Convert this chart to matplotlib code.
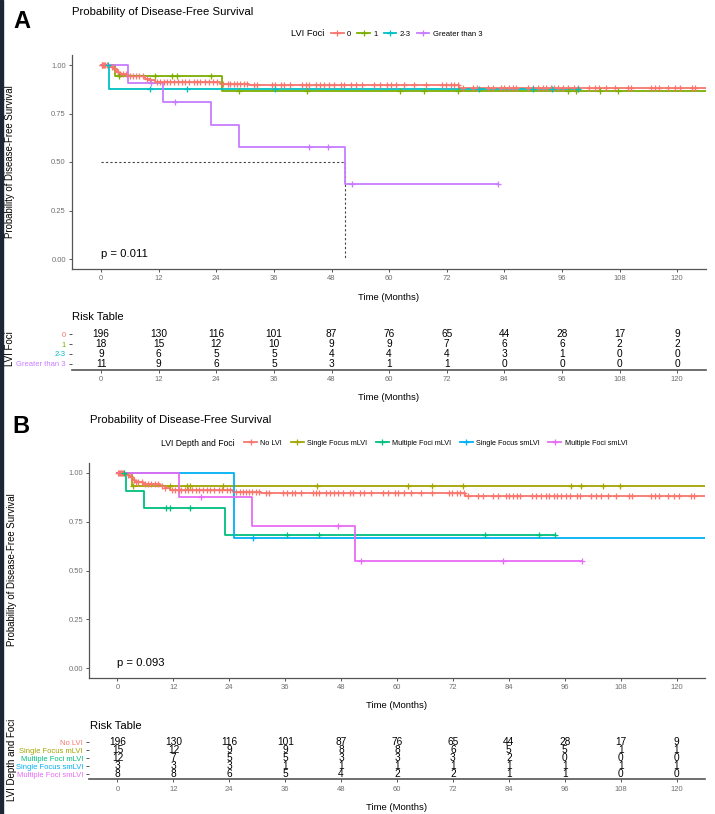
import numpy as np
import matplotlib
matplotlib.use("Agg")
import matplotlib.pyplot as plt
from matplotlib.lines import Line2D
from matplotlib.patches import Rectangle

plt.rcParams['font.family'] = ['Liberation Sans', 'DejaVu Sans']

W, H = 715, 814

# risk table time points
months = [0, 12, 24, 36, 48, 60, 72, 84, 96, 108, 120]

# ---- panel A data (LVI Foci) ----
a_groups = ["0", "1", "2-3", "Greater than 3"]
a_colors = ["#F8766D", "#7CAE00", "#00BFC4", "#C77CFF"]

# group "0" / "No LVI" (same patients in both panels)
red_evt_t = [1.8, 2.6, 3.3, 3.7, 5.4, 9.2, 10.2, 11.3, 24.8, 30.8, 74.6]
red_evt_s = [0.990, 0.980, 0.964, 0.952, 0.942, 0.930, 0.921, 0.913, 0.904, 0.896, 0.879]
red_cens = [0.1, 0.3, 0.5, 0.7, 0.9, 1.2, 2.2, 2.9, 3.5, 4.0, 4.5, 5.2, 6.0, 6.6, 7.3,
            8.0, 8.8, 9.5, 10.3, 11.6, 12.3, 13.2, 13.7, 14.4, 15.1, 16.1, 16.8, 17.5,
            18.4, 19.3, 19.9, 20.7, 21.7, 22.4, 23.4, 24.1, 25.5, 26.4, 26.9, 27.6, 28.3,
            28.9, 29.7, 30.4, 31.8, 32.5, 35.6, 36.3, 37.4, 38.1, 39.4, 41.9, 42.6, 43.3,
            44.7, 45.7, 46.4, 47.4, 48.5, 49.9, 50.6, 52.0, 53.0, 54.4, 56.9, 58.1, 59.6,
            60.3, 61.4, 63.0, 65.2, 67.6, 71.1, 71.8, 72.9, 73.5, 74.3, 75.3, 77.4, 78.4,
            80.5, 81.6, 83.3, 84.0, 85.0, 85.7, 86.4, 88.9, 89.9, 91.0, 92.0, 92.7, 93.7,
            94.4, 95.1, 96.2, 97.2, 98.6, 99.3, 101.7, 102.8, 103.8, 105.2, 107.0, 109.8,
            110.4, 114.6, 115.3, 116.3, 118.1, 119.5, 120.5, 123.0, 123.7]
red_end = 126

a1_evt_t = [2.9, 25.2]
a1_evt_s = [0.944, 0.866]
a1_cens = [3.7, 11.3, 14.8, 15.9, 22.8, 28.7, 42.8, 62.3, 67.3, 74.3, 97.2, 99.0, 104.0, 107.6]
a1_end = 126

a23_evt_t = [1.7]
a23_evt_s = [0.875]
a23_cens = [1.4, 10.2, 18.0, 36.2, 78.7, 90.0, 94.0, 99.3]
a23_end = 99.3

a3_evt_t = [5.7, 13.0, 23.0, 28.8, 50.9]
a3_evt_s = [0.909, 0.808, 0.693, 0.577, 0.385]
a3_cens = [10.4, 15.4, 43.4, 47.3, 52.3, 82.7]
a3_end = 82.7

a_risk = [
    [196, 130, 116, 101, 87, 76, 65, 44, 28, 17, 9],
    [18, 15, 12, 10, 9, 9, 7, 6, 6, 2, 2],
    [9, 6, 5, 5, 4, 4, 4, 3, 1, 0, 0],
    [11, 9, 6, 5, 3, 1, 1, 0, 0, 0, 0],
]
a_median = 50.9

# ---- panel B data (LVI Depth and Foci) ----
b_groups = ["No LVI", "Single Focus mLVI", "Multiple Foci mLVI",
            "Single Focus smLVI", "Multiple Foci smLVI"]
b_colors = ["#F8766D", "#A3A500", "#00BF7D", "#00B0F6", "#E76BF3"]

sfm_evt_t = [3.1]
sfm_evt_s = [0.933]
sfm_cens = [3.4, 11.3, 14.9, 15.6, 22.7, 42.8, 62.4, 67.5, 74.2, 97.4, 99.5, 104.2, 107.9]
sfm_end = 126

mfm_evt_t = [1.9, 5.6, 23.1]
mfm_evt_s = [0.909, 0.818, 0.682]
mfm_cens = [1.4, 10.5, 11.2, 15.6, 36.3, 43.3, 78.8, 90.4, 93.9]
mfm_end = 93.9

sfs_evt_t = [25.0]
sfs_evt_s = [0.667]
sfs_cens = [29.0]
sfs_end = 126

mfs_evt_t = [13.2, 28.8, 50.9]
mfs_evt_s = [0.875, 0.729, 0.547]
mfs_cens = [17.9, 47.4, 52.3, 82.8, 99.7]
mfs_end = 99.7

b_risk = [
    [196, 130, 116, 101, 87, 76, 65, 44, 28, 17, 9],
    [15, 12, 9, 9, 8, 8, 6, 5, 5, 1, 1],
    [12, 7, 5, 5, 3, 3, 3, 2, 0, 0, 0],
    [3, 3, 3, 1, 1, 1, 1, 1, 1, 1, 1],
    [8, 8, 6, 5, 4, 2, 2, 1, 1, 0, 0],
]

a_curves = [(red_evt_t, red_evt_s, red_cens, red_end),
            (a1_evt_t, a1_evt_s, a1_cens, a1_end),
            (a23_evt_t, a23_evt_s, a23_cens, a23_end),
            (a3_evt_t, a3_evt_s, a3_cens, a3_end)]
b_curves = [(red_evt_t, red_evt_s, red_cens, red_end),
            (sfm_evt_t, sfm_evt_s, sfm_cens, sfm_end),
            (mfm_evt_t, mfm_evt_s, mfm_cens, mfm_end),
            (sfs_evt_t, sfs_evt_s, sfs_cens, sfs_end),
            (mfs_evt_t, mfs_evt_s, mfs_cens, mfs_end)]

TICK_GRAY = "#707070"
AXIS_GRAY = "#555555"


def box(l, t, r, b):
    return [l / W, 1 - b / H, (r - l) / W, (b - t) / H]


def ftext(x, y, s, **kw):
    fig.text(x / W, 1 - y / H, s, **kw)


def style_axes(ax):
    for side in ["top", "right"]:
        ax.spines[side].set_visible(False)
    for side in ["left", "bottom"]:
        ax.spines[side].set_color(AXIS_GRAY)
        ax.spines[side].set_linewidth(0.9)
    ax.tick_params(colors=AXIS_GRAY, labelcolor=TICK_GRAY, labelsize=5.5,
                   length=2.5, width=0.7, pad=2)


def draw_km(ax, curves, colors):
    for (et, es, cens, end), c in zip(curves, colors):
        t = np.concatenate([[0], et, [end]])
        s = np.concatenate([[1.0], es, [es[-1]]])
        ax.step(t, s, where="post", color=c, lw=1.3, zorder=3)
        # survival at each censoring time
        idx = np.searchsorted(et, cens, side="right")
        cs = s[idx]
        ax.plot(cens, cs, ls="none", marker="+", ms=4.5, mew=0.9, color=c, zorder=4)


def km_panel(rect, curves, colors, pval, median=None):
    ax = fig.add_axes(box(*rect))
    draw_km(ax, curves, colors)
    if median is not None:
        ax.plot([0, median], [0.5, 0.5], ls=(0, (2, 2)), color="#444444", lw=0.8)
        ax.plot([median, median], [0.5, 0], ls=(0, (2, 2)), color="#444444", lw=0.8)
    ax.set_xlim(-6.05, 126)
    ax.set_ylim(-0.05, 1.05)
    ax.set_xticks(months)
    ax.set_yticks([0, 0.25, 0.5, 0.75, 1.0])
    ax.set_yticklabels(["0.00", "0.25", "0.50", "0.75", "1.00"])
    style_axes(ax)
    ax.text(0, 0.027, pval, fontsize=8.1, ha="left", va="center", color="black")
    return ax


def risk_panel(rect, risk, groups, colors):
    ax = fig.add_axes(box(*rect))
    ng = len(groups)
    for i, row in enumerate(risk):
        for m, n in zip(months, row):
            ax.text(m, ng - 1 - i, str(n), ha="center", va="center", fontsize=7.3)
    ax.set_xlim(-6.05, 126)
    ax.set_ylim(-0.6, ng - 0.4)
    ax.set_xticks(months)
    ax.set_yticks(range(ng - 1, -1, -1))
    ax.set_yticklabels(groups)
    style_axes(ax)
    ax.spines["left"].set_visible(False)
    ax.spines["bottom"].set_linewidth(1.2)
    for lbl, c in zip(ax.get_yticklabels(), colors):
        lbl.set_color(c)
        lbl.set_fontsize(5.5)
    return ax


def legend_row(x_title, x_keys, y, title, groups, colors, title_size, label_size,
               hlen, spacing):
    ftext(x_title, y, title, fontsize=title_size, ha="left", va="center")
    handles = [Line2D([], [], color=c, lw=1.3, marker="+", ms=4.5, mew=0.9) for c in colors]
    fig.legend(handles, groups, loc="center left", bbox_to_anchor=(x_keys / W, 1 - y / H),
               ncol=len(groups), frameon=False, fontsize=label_size, handlelength=hlen,
               handletextpad=0.45, columnspacing=spacing, borderpad=0, borderaxespad=0)


fig = plt.figure(figsize=(W / 100, H / 100), dpi=100)
fig.patches.append(Rectangle((0, 0), 3 / W, 1, transform=fig.transFigure,
                             color="#1c2733", zorder=10))

# ---- panel A ----
ftext(22, 21, "A", fontsize=17, fontweight="bold", ha="center", va="center")
ftext(72, 12, "Probability of Disease-Free Survival", fontsize=8.2, ha="left", va="center")
legend_row(291, 331, 34, "LVI Foci", a_groups, a_colors, 6.7, 5.5, 1.65, 0.8)
km_panel((72, 55.3, 706, 268.7), a_curves, a_colors, "p = 0.011", median=a_median)
ftext(10, 162, "Probability of Disease-Free Survival", fontsize=6.9, rotation=90,
      ha="center", va="center")
ftext(389, 297, "Time (Months)", fontsize=6.8, ha="center", va="center")

ftext(72, 317, "Risk Table", fontsize=8.1, ha="left", va="center")
risk_panel((72, 328.5, 706, 369.5), a_risk, a_groups, a_colors)
ftext(10, 349, "LVI Foci", fontsize=7, rotation=90, ha="center", va="center")
ftext(389, 398, "Time (Months)", fontsize=6.8, ha="center", va="center")

# ---- panel B ----
ftext(21, 426, "B", fontsize=17, fontweight="bold", ha="center", va="center")
ftext(90, 420, "Probability of Disease-Free Survival", fontsize=8.2, ha="left", va="center")
legend_row(161, 244, 443, "LVI Depth and Foci", b_groups, b_colors, 6.2, 5.2, 1.8, 1.2)
km_panel((89.3, 463, 704.5, 678), b_curves, b_colors, "p = 0.093")
ftext(12, 570, "Probability of Disease-Free Survival", fontsize=6.9, rotation=90,
      ha="center", va="center")
ftext(397, 706, "Time (Months)", fontsize=6.8, ha="center", va="center")

ftext(90, 726, "Risk Table", fontsize=8.1, ha="left", va="center")
risk_panel((89.3, 737.5, 704.5, 779.3), b_risk, b_groups, b_colors)
ftext(12, 760, "LVI Depth and Foci", fontsize=7, rotation=90, ha="center", va="center")
ftext(397, 808, "Time (Months)", fontsize=6.8, ha="center", va="center")

fig.savefig("out.png", dpi=100)
